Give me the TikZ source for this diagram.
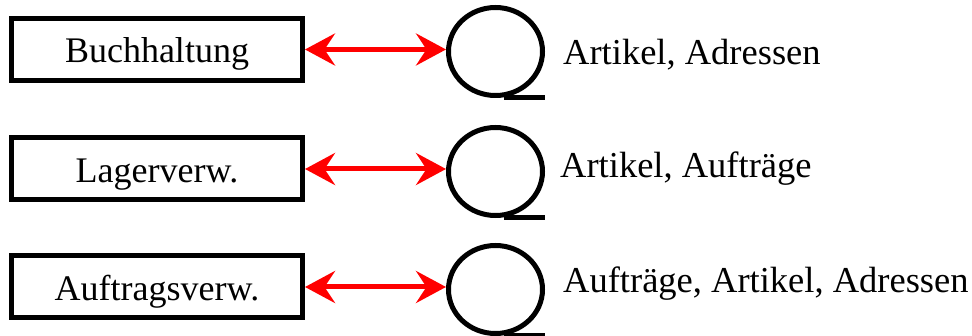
\documentclass[tikz,border=0pt]{standalone}
\usepackage{fontspec}
\setmainfont{Liberation Serif}
\usetikzlibrary{shapes.geometric,arrows.meta}
\tikzset{
  procbox/.style={draw=black, line width=5pt, rectangle, inner sep=0pt,
    minimum width=291pt, minimum height=62pt, text height=27pt, text depth=0pt,
    font=\fontsize{36}{40}\selectfont},
  store/.style={draw=black, line width=5pt, ellipse, inner sep=0pt,
    minimum width=94pt, minimum height=88pt},
  storetail/.style={draw=black, line width=5pt},
  link/.style={draw=red, line width=5pt,
    {Stealth[length=30pt,width=32pt,inset=10.5pt]}-{Stealth[length=30pt,width=32pt,inset=10.5pt]}},
  lbl/.style={anchor=base west, inner sep=0pt, font=\fontsize{36.5}{40}\selectfont}
}
\begin{document}
\begin{tikzpicture}[x=1pt,y=-1pt]
\useasboundingbox (0,0) rectangle (972,336);
\node[procbox] (b1) at (157,49.5) {Buchhaltung};
\node[procbox] (b2) at (157,169) {Lagerverw.};
\node[procbox] (b3) at (157,287) {Auftragsverw.};
\node[store] (s1) at (495.5,51.5) {};
\node[store] (s2) at (495.5,171.5) {};
\node[store] (s3) at (495.5,289.5) {};
\draw[storetail] (s1.south) ++(8,0) -- ++(41,0);
\draw[storetail] (s2.south) ++(8,0) -- ++(41,0);
\draw[storetail] (s3.south) ++(8,0) -- ++(41,0);
\draw[link] (b1.east) -- (b1.east -| s1.west);
\draw[link] (b2.east) -- (b2.east -| s2.west);
\draw[link] (b3.east) -- (b3.east -| s3.west);
\node[lbl] (l1) at (563,65) {Artikel, Adressen};
\node[lbl] (l2) at (560,178) {Artikel, Aufträge};
\node[lbl] (l3) at (563,293) {Aufträge, Artikel, Adressen};
\end{tikzpicture}
\end{document}
